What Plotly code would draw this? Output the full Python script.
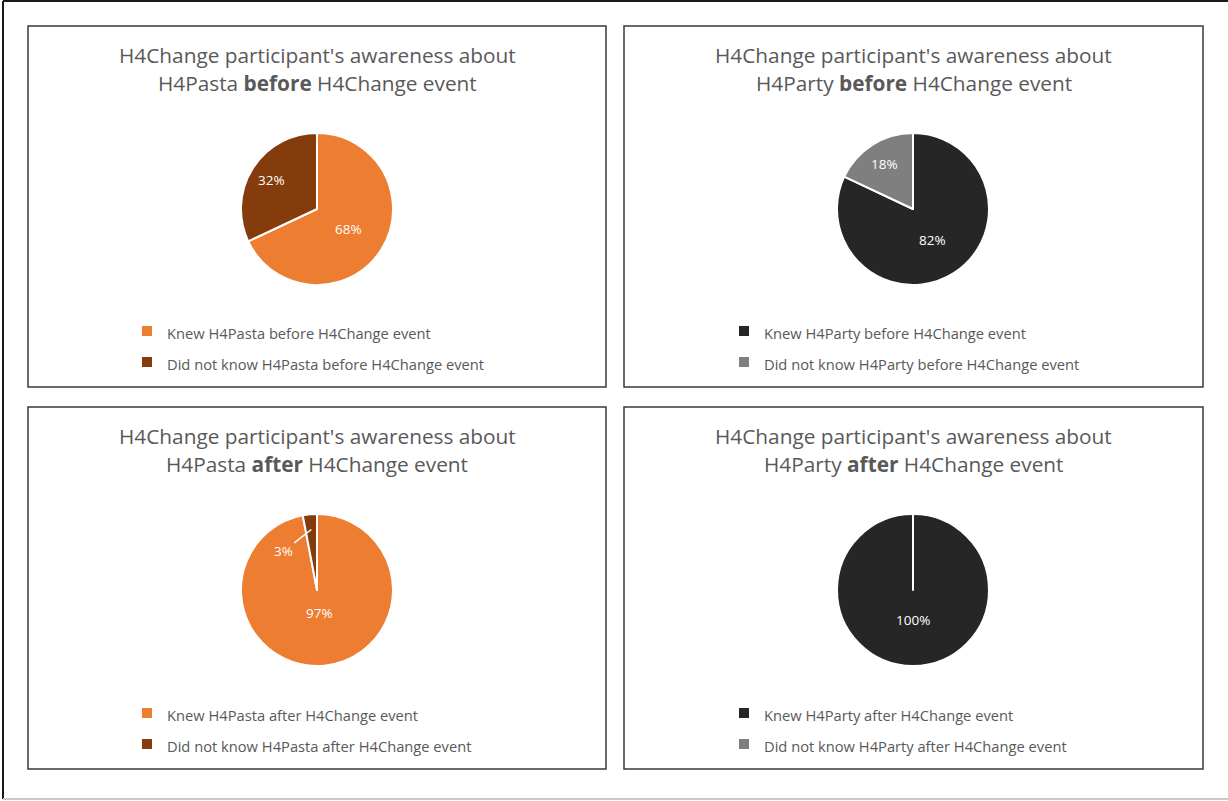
import math
import plotly.graph_objects as go

W, H = 1228, 801

# ---- data -------------------------------------------------------------
pasta_before_labels = ["Knew H4Pasta before H4Change event",
                       "Did not know H4Pasta before H4Change event"]
pasta_before_values = [68, 32]

party_before_labels = ["Knew H4Party before H4Change event",
                       "Did not know H4Party before H4Change event"]
party_before_values = [82, 18]

pasta_after_labels = ["Knew H4Pasta after H4Change event",
                      "Did not know H4Pasta after H4Change event"]
pasta_after_values = [97, 3]

party_after_labels = ["Knew H4Party after H4Change event",
                      "Did not know H4Party after H4Change event"]
party_after_values = [100, 0]

titles = [
    ("H4Change participant's awareness about", "H4Pasta <b>before</b> H4Change event"),
    ("H4Change participant's awareness about", "H4Party <b>before</b> H4Change event"),
    ("H4Change participant's awareness about", "H4Pasta <b>after</b> H4Change event"),
    ("H4Change participant's awareness about", "H4Party <b>after</b> H4Change event"),
]

orange_colors = ["#ED7D31", "#843C0C"]
grey_colors = ["#262626", "#7F7F7F"]

FONT = "Open Sans"
TEXT_GREY = "#595959"

# ---- layout helpers ---------------------------------------------------
def px(x):
    return x / W


def py(y):
    return 1 - y / H


# panel frames (left, top, right, bottom) in pixels
panels = [(28, 26, 606, 387), (624, 26, 1203, 387),
          (28, 407, 606, 769), (624, 407, 1203, 769)]
# pie centres and radius in pixels
centres = [(317, 209), (913, 209), (317, 590), (913, 590)]
R = 76

series = [
    (pasta_before_labels, pasta_before_values, orange_colors),
    (party_before_labels, party_before_values, grey_colors),
    (pasta_after_labels, pasta_after_values, orange_colors),
    (party_after_labels, party_after_values, grey_colors),
]

# radial placement of each data label, as a fraction of the radius
# (None = label drawn with a leader line outside the slice)
label_radius = [[0.49, 0.71], [0.49, 0.70], [0.31, None], [0.39, None]]

legend_names = ["legend", "legend2", "legend3", "legend4"]

fig = go.Figure()

for i, ((labels, values, colors), (cx, cy)) in enumerate(zip(series, centres)):
    total = sum(values)
    legend_labels = [f"<span style='font-size:14.7px'>{lab}</span>" for lab in labels]
    fig.add_trace(go.Pie(
        labels=legend_labels,
        values=values,
        sort=False,
        direction="clockwise",
        rotation=0,
        marker=dict(colors=colors, line=dict(color="white", width=2)),
        textinfo="none",
        domain=dict(x=[px(cx - R), px(cx + R)], y=[py(cy + R), py(cy - R)]),
        legend=legend_names[i],
        hoverinfo="label+percent",
    ))

    # percentage labels at each slice's mid-angle
    cum = 0.0
    for v, frac in zip(values, label_radius[i]):
        share = v / total
        mid = (cum + share / 2) * 2 * math.pi
        cum += share
        if v <= 0:
            continue
        pct = f"{round(100 * share)}%"
        if frac is not None:
            lx = cx + math.sin(mid) * R * frac
            ly = cy - math.cos(mid) * R * frac
            fig.add_annotation(x=px(lx), y=py(ly), xref="paper", yref="paper",
                               text=pct, showarrow=False,
                               xanchor="center", yanchor="middle",
                               font=dict(family=FONT, size=13.5, color="white"))
        else:
            # small slice: label sits beside it with a white leader line
            lx = cx + math.sin(mid) * R * 0.8
            ly = cy - math.cos(mid) * R * 0.8
            fig.add_annotation(x=px(lx), y=py(ly), xref="paper", yref="paper",
                               text=pct, showarrow=True, arrowhead=0,
                               arrowwidth=1.5, arrowcolor="white",
                               ax=-28, ay=22, standoff=0,
                               font=dict(family=FONT, size=13.5, color="white"))

# titles and panel frames
for (l, t, r, b), (line1, line2) in zip(panels, titles):
    mid_x = (l + r) / 2
    for text, dy in ((line1, 29), (line2, 57)):
        fig.add_annotation(x=px(mid_x), y=py(t + dy), xref="paper", yref="paper",
                           text=text, showarrow=False,
                           xanchor="center", yanchor="middle",
                           font=dict(family=FONT, size=20.8, color=TEXT_GREY))
    fig.add_shape(type="rect", xref="paper", yref="paper",
                  x0=px(l), x1=px(r), y0=py(b), y1=py(t),
                  line=dict(color="#3a3a3a", width=1.5))

# outer frame
fig.add_shape(type="line", xref="paper", yref="paper", x0=px(3), x1=px(3), y0=py(1), y1=py(799),
              line=dict(color="#1a1a1a", width=2))
fig.add_shape(type="line", xref="paper", yref="paper", x0=px(3), x1=1, y0=py(1), y1=py(1),
              line=dict(color="#1a1a1a", width=2))
fig.add_shape(type="line", xref="paper", yref="paper", x0=px(3), x1=1, y0=py(799), y1=py(799),
              line=dict(color="#c8c8c8", width=2))

legend_common = dict(font=dict(family=FONT, size=21.5, color=TEXT_GREY),
                     bgcolor="rgba(0,0,0,0)", xanchor="left", yanchor="middle",
                     traceorder="normal", itemclick=False)
legend_pos = [(147, 346.5), (744, 346.5), (147, 728.5), (744, 728.5)]
layout_legends = {}
for name, (lx, ly) in zip(legend_names, legend_pos):
    layout_legends[name] = dict(x=px(lx - 20), y=py(ly), **legend_common)

fig.update_layout(
    width=W, height=H,
    margin=dict(l=0, r=0, t=0, b=0),
    paper_bgcolor="white",
    plot_bgcolor="white",
    font=dict(family=FONT, color=TEXT_GREY),
    showlegend=True,
    **layout_legends,
)

fig.write_html("out.html")
